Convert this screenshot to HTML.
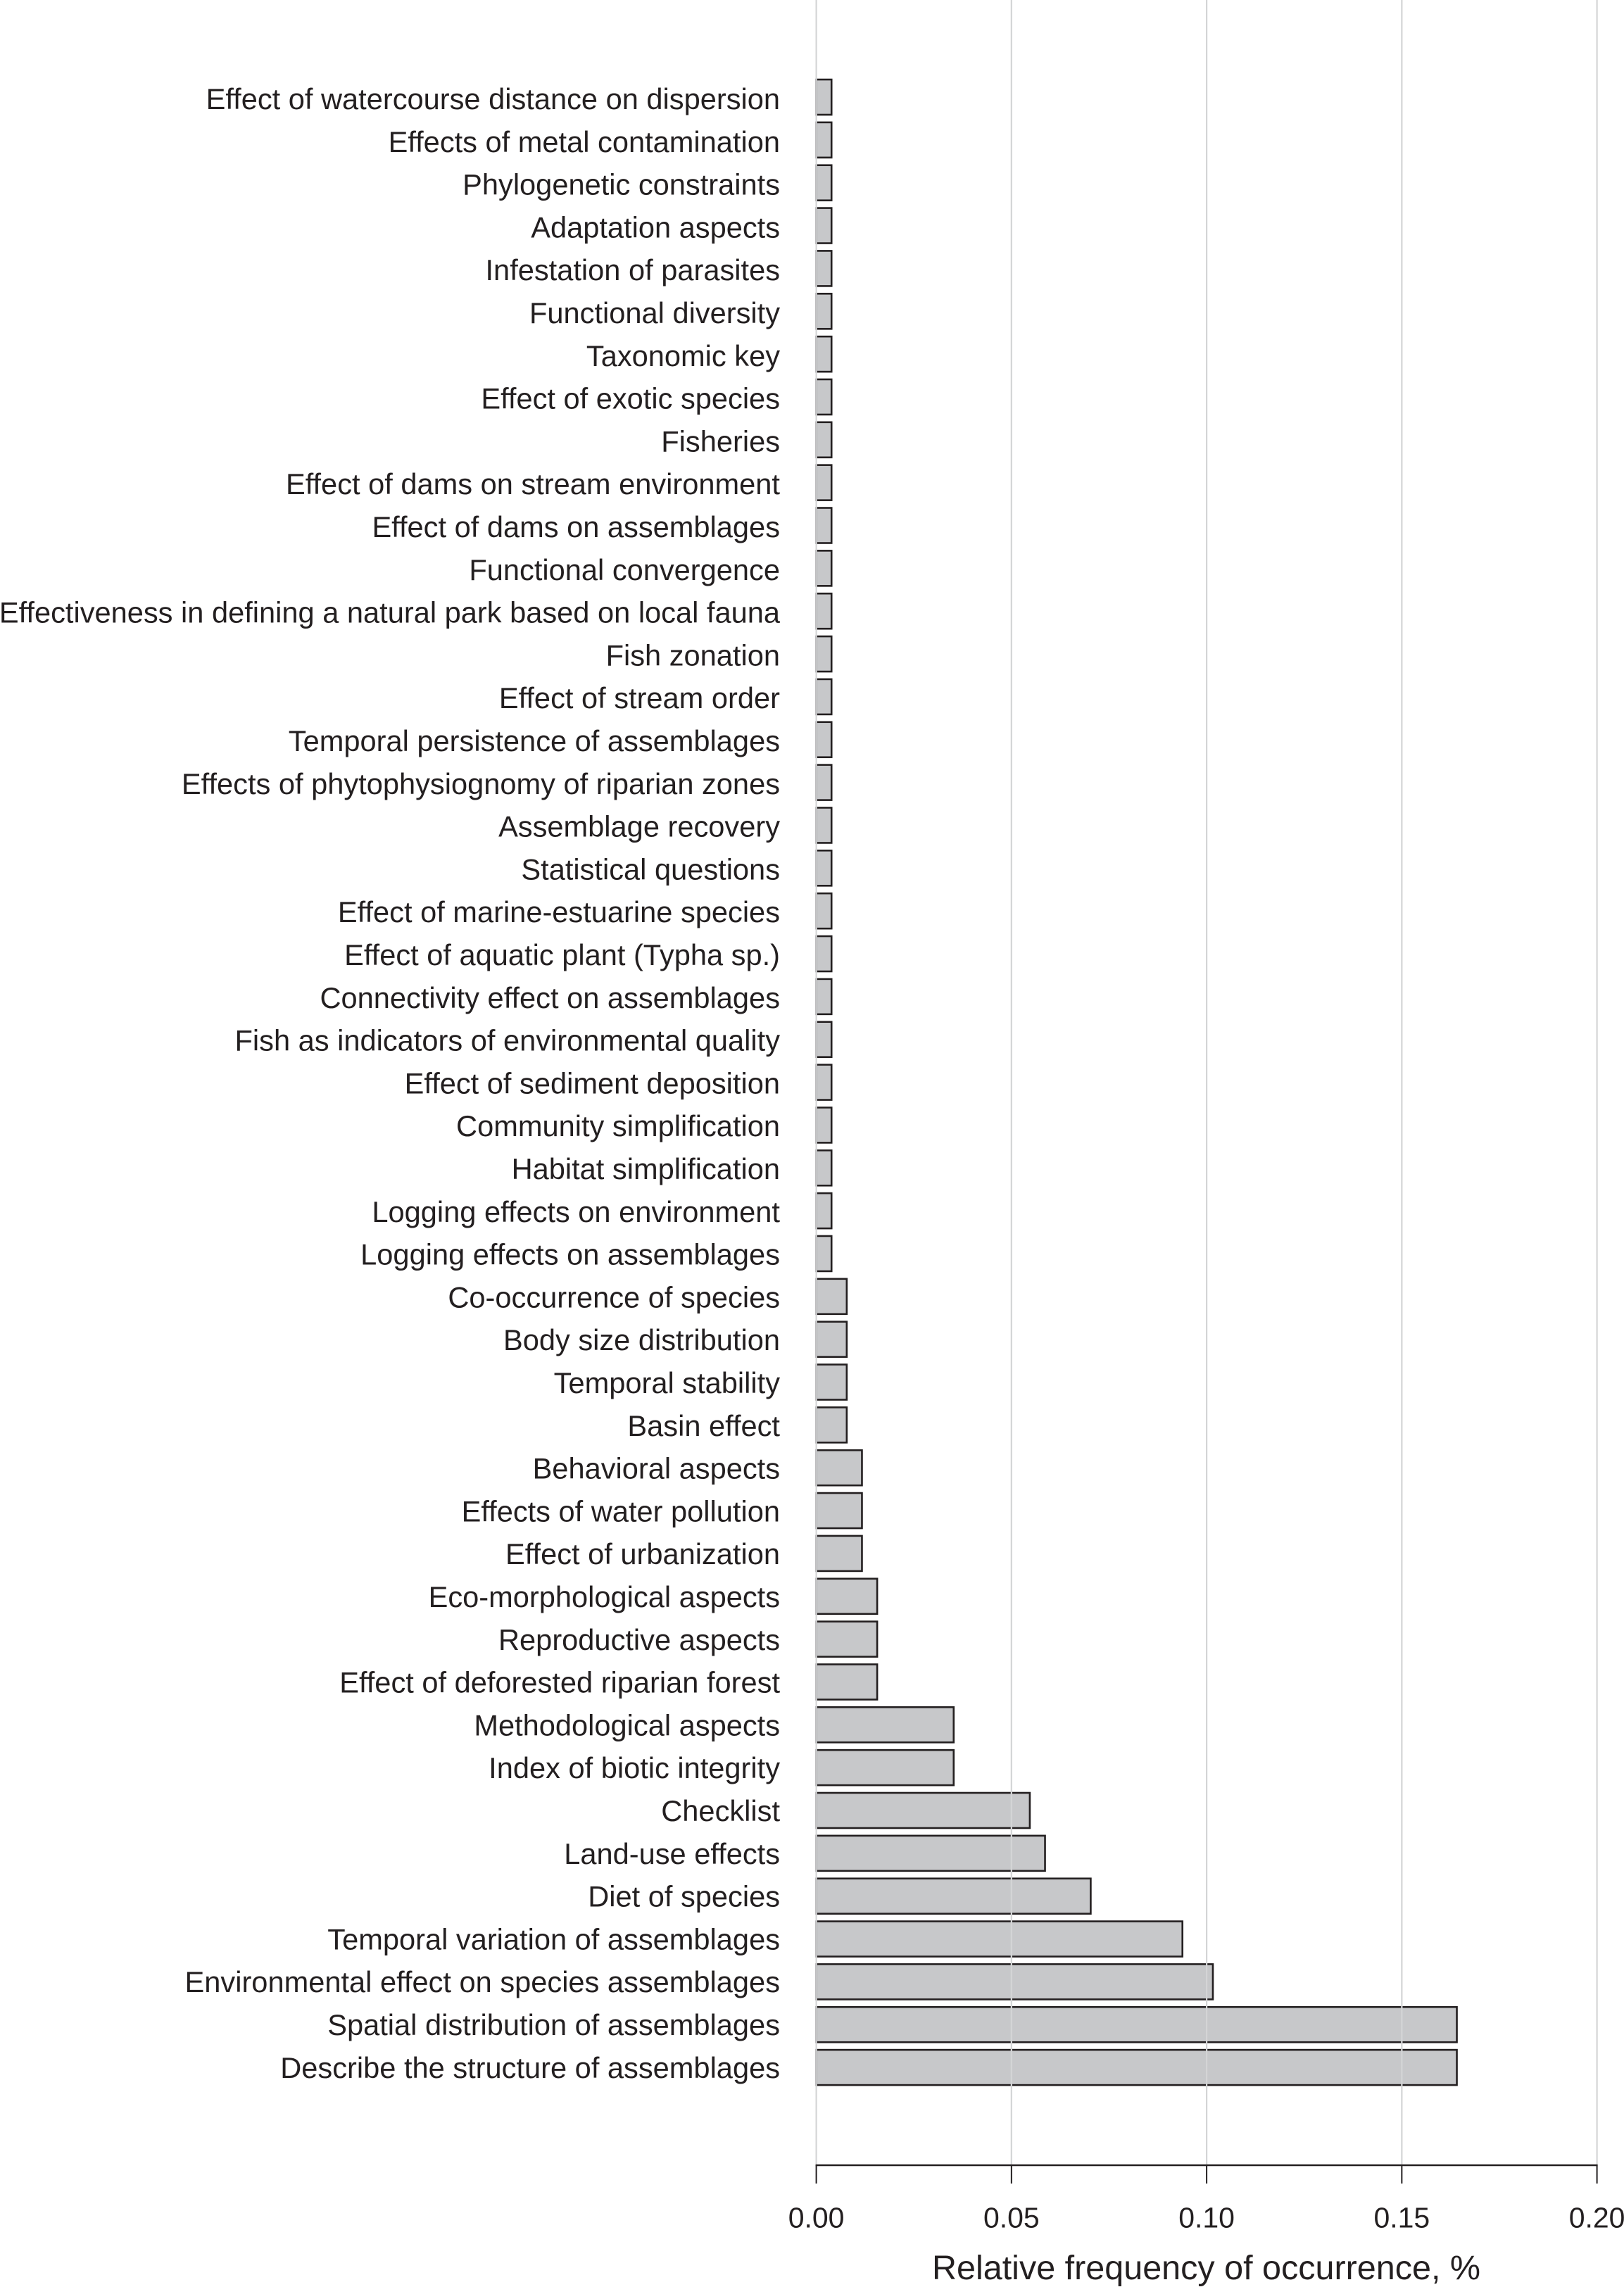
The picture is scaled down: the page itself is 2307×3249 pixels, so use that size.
<!DOCTYPE html>
<html lang="en">
<head>
<meta charset="utf-8">
<title>Relative frequency of occurrence</title>
<style>
html,body{margin:0;padding:0;background:#fff;}
svg{display:block;font-family:"Liberation Sans",Arial,sans-serif;}
text{fill:#231f20;}
</style>
</head>
<body>
<svg id="chart" xmlns="http://www.w3.org/2000/svg" width="2307" height="3249" viewBox="0 0 2307 3249">
<g id="bars"></g>
<g id="grid"></g>
<g id="labels"></g>
<g id="axis"></g>
<text id="xtitle" x="1713.5" y="3238" text-anchor="middle" font-size="48.5">Relative frequency of occurrence, %</text>
</svg>
<script>
const categories = [
"Effect of watercourse distance on dispersion","Effects of metal contamination","Phylogenetic constraints","Adaptation aspects","Infestation of parasites","Functional diversity","Taxonomic key","Effect of exotic species","Fisheries","Effect of dams on stream environment","Effect of dams on assemblages","Functional convergence","Effectiveness in defining a natural park based on local fauna","Fish zonation","Effect of stream order","Temporal persistence of assemblages","Effects of phytophysiognomy of riparian zones","Assemblage recovery","Statistical questions","Effect of marine-estuarine species","Effect of aquatic plant (Typha sp.)","Connectivity effect on assemblages","Fish as indicators of environmental quality","Effect of sediment deposition","Community simplification","Habitat simplification","Logging effects on environment","Logging effects on assemblages","Co-occurrence of species","Body size distribution","Temporal stability","Basin effect","Behavioral aspects","Effects of water pollution","Effect of urbanization","Eco-morphological aspects","Reproductive aspects","Effect of deforested riparian forest","Methodological aspects","Index of biotic integrity","Checklist","Land-use effects","Diet of species","Temporal variation of assemblages","Environmental effect on species assemblages","Spatial distribution of assemblages","Describe the structure of assemblages"
];
const frequencies = [
0.0039,0.0039,0.0039,0.0039,0.0039,0.0039,0.0039,0.0039,0.0039,0.0039,0.0039,0.0039,0.0039,0.0039,0.0039,0.0039,0.0039,0.0039,0.0039,0.0039,0.0039,0.0039,0.0039,0.0039,0.0039,0.0039,0.0039,0.0039,
0.0078,0.0078,0.0078,0.0078,
0.0117,0.0117,0.0117,
0.0156,0.0156,0.0156,
0.0352,0.0352,
0.0547,0.0586,0.0703,0.0938,0.1016,0.1641,0.1641
];
const tickValues = [0, 0.05, 0.10, 0.15, 0.20];
const tickLabels = ["0.00", "0.05", "0.10", "0.15", "0.20"];

const NS = "http://www.w3.org/2000/svg";
const INK = "#231f20";
const xAt = v => 1159.6 + v * 5545;
const yAt = i => 138 + i * 60.85;
const labelY = i => 155 + i * 60.8;
const BAR_H = 50;
const AXIS_Y = 3076;

function make(tag, attrs, parent) {
  const el = document.createElementNS(NS, tag);
  for (const k in attrs) el.setAttribute(k, attrs[k]);
  parent.appendChild(el);
  return el;
}

const barsG = document.getElementById("bars");
const labelsG = document.getElementById("labels");
const gridG = document.getElementById("grid");
const axisG = document.getElementById("axis");

categories.forEach((name, i) => {
  const bar = make("rect", {
    x: xAt(0), y: yAt(i) - BAR_H / 2,
    width: xAt(frequencies[i]) - xAt(0), height: BAR_H,
    fill: "#c7c8ca", stroke: INK, "stroke-width": 2.6
  }, barsG);
  
  

  const label = make("text", {
    x: 1108, y: labelY(i), "text-anchor": "end", "font-size": 41.6
  }, labelsG);
  label.textContent = name;
  
  
});

tickValues.forEach((v, i) => {
  const grid = make("line", {
    x1: xAt(v), x2: xAt(v), y1: 0, y2: AXIS_Y,
    stroke: "#d4d5d6", "stroke-width": 2.2
  }, gridG);
  
  

  const tick = make("line", {
    x1: xAt(v), x2: xAt(v), y1: AXIS_Y, y2: 3102,
    stroke: INK, "stroke-width": 2
  }, axisG);
  
  

  const tl = make("text", {
    x: xAt(v), y: 3164.5, "text-anchor": "middle", "font-size": 41
  }, axisG);
  tl.textContent = tickLabels[i];
  
  
});

const axisLine = make("line", {
  x1: xAt(tickValues[0]) - 1, x2: xAt(tickValues[tickValues.length - 1]) + 1,
  y1: AXIS_Y, y2: AXIS_Y, stroke: INK, "stroke-width": 2.6
}, axisG);


</script>
</body>
</html>
